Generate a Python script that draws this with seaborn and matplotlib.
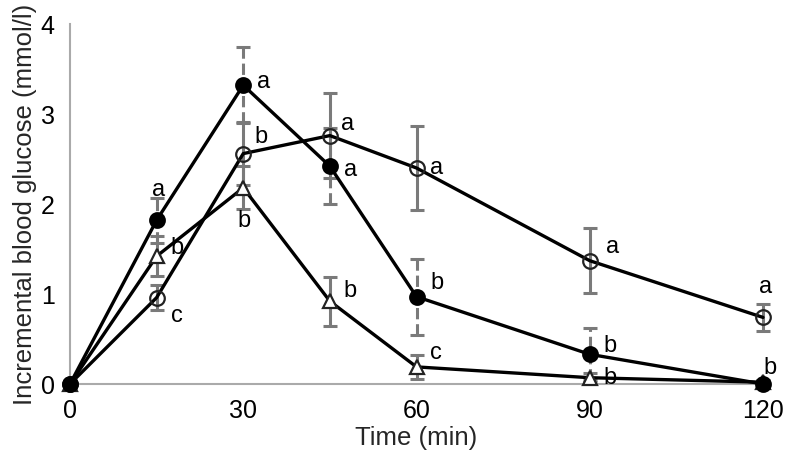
import matplotlib
matplotlib.use("Agg")
import matplotlib.pyplot as plt
import seaborn as sns
import numpy as np
import pandas as pd

time = [0, 15, 30, 45, 60, 90, 120]

filled_vals = [0.0, 1.82, 3.32, 2.42, 0.97, 0.33, 0.0]
filled_err = [0.0, 0.25, 0.42, 0.42, 0.42, 0.29, 0.0]
filled_letters = ["", "a", "a", "a", "b", "b", ""]

open_vals = [0.0, 0.96, 2.56, 2.76, 2.40, 1.37, 0.74]
open_err = [0.0, 0.14, 0.35, 0.47, 0.47, 0.36, 0.15]
open_letters = ["", "c", "b", "a", "a", "a", "a"]

tri_vals = [0.0, 1.42, 2.18, 0.92, 0.19, 0.07, 0.02]
tri_err = [0.0, 0.22, 0.24, 0.27, 0.13, 0.05, 0.03]
tri_letters = ["", "b", "b", "b", "c", "b", "b"]

x_ticks = [0, 30, 60, 90, 120]
y_ticks = [0, 1, 2, 3, 4]

sns.set_theme(style="white")
plt.rcParams['font.family'] = ['Liberation Sans', 'DejaVu Sans']

fig = plt.figure(figsize=(7.85, 4.55), dpi=100)
ax = fig.add_axes([70/785, 71/455, 693/785, 360/455])

ecol = "#7a7a7a"
series = [
    (tri_vals, tri_err, "^", "white", "-"),
    (open_vals, open_err, "o", "none", "-"),
    (filled_vals, filled_err, "o", "black", "--"),
]
for vals, err, mk, mfc, els in series:
    eb = ax.errorbar(time, vals, yerr=err, fmt="none", ecolor=ecol,
                     elinewidth=2.2, capsize=5, capthick=2.2, zorder=2,
                     clip_on=False)
    for lc in eb[2]:
        lc.set_linestyle(els)
    sns.lineplot(x=time, y=vals, ax=ax, color="black", linewidth=2.4,
                 marker=mk, markersize=10.5, markerfacecolor=mfc,
                 markeredgecolor="black" if mfc == "black" else "#222222",
                 markeredgewidth=1.6, zorder=3, clip_on=False)

# significance letters (offsets in points)
def label(x, y, s, dx, dy):
    if s:
        ax.annotate(s, (x, y), xytext=(dx, dy), textcoords="offset points",
                    fontsize=17, ha="left", va="center", color="black")

f_off = [None, (-3, 22), (10, 2), (10, -3), (10, 10), (10, 6), None]
o_off = [None, (10, -13), (8, 12), (8, 8), (10, 0), (12, 10), (-3, 22)]
t_off = [None, (10, 6), (-4, -24), (10, 7), (10, 10), (10, 0), (0, 10)]
for i, t in enumerate(time):
    if f_off[i]:
        label(t, filled_vals[i], filled_letters[i], *f_off[i])
    if o_off[i]:
        label(t, open_vals[i], open_letters[i], *o_off[i])
    if t_off[i]:
        label(t, tri_vals[i], tri_letters[i], *t_off[i])

ax.set_xlim(0, 120)
ax.set_ylim(0, 4)
ax.set_xticks(x_ticks)
ax.set_yticks(y_ticks)
ax.tick_params(axis="both", direction="in", length=5, width=1.5,
               color="#aaaaaa", labelsize=18, labelcolor="black")
ax.tick_params(axis="y", pad=11)
ax.tick_params(axis="x", pad=11)
for s in ["top", "right"]:
    ax.spines[s].set_visible(False)
for s in ["left", "bottom"]:
    ax.spines[s].set_color("#aaaaaa")
    ax.spines[s].set_linewidth(1.5)
ax.set_xlabel("Time (min)", fontsize=18.5, labelpad=2)
ax.set_ylabel("Incremental blood glucose (mmol/l)", fontsize=18.5, labelpad=3)
ax.grid(False)
fig.savefig("out.png", dpi=100)
